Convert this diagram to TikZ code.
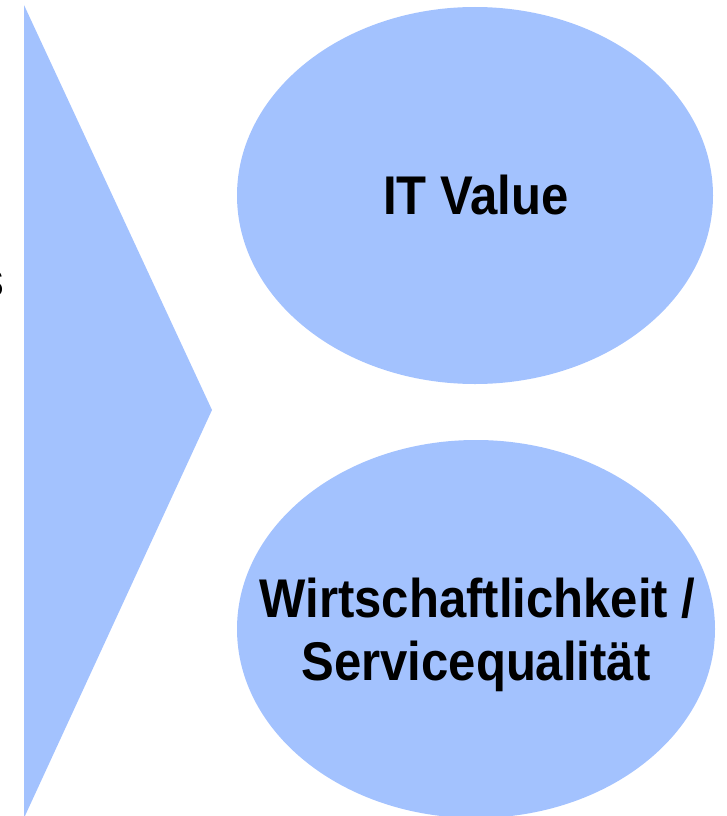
\documentclass[tikz,border=0pt]{standalone}
\usepackage{fontspec}
\setmainfont{Liberation Sans}[FakeStretch=0.9]
\usetikzlibrary{shapes.geometric}
\definecolor{blobblue}{HTML}{A3C2FE}
\tikzset{
  blob/.style={ellipse, fill=blobblue, draw=none, inner sep=0pt},
  bigtext/.style={font=\bfseries\fontsize{54.5}{63}\selectfont, text=black, inner sep=0pt, anchor=base},
}
\begin{document}
\begin{tikzpicture}[x=1pt,y=-1pt]
\useasboundingbox (0,0) rectangle (726,816);
\fill[blobblue] (24,5) coordinate (t1) -- (212,410) coordinate (t2) -- (24,818) coordinate (t3) -- cycle;
\node[blob, minimum width=476pt, minimum height=377pt] (ev) at (475,195.5) {};
\node[blob, minimum width=478pt, minimum height=378pt] (ew) at (476,629) {};
\node[bigtext] (lv) at (476,214) {IT Value};
\node[bigtext] (lw1) at (477.5,617) {Wirtschaftlichkeit /};
\node[bigtext] (lw2) at (476,680) {Servicequalität};
\node[font=\fontsize{48}{50}\selectfont, inner sep=0pt, anchor=base east] (ls) at (4.5,296) {s};
\end{tikzpicture}
\end{document}
